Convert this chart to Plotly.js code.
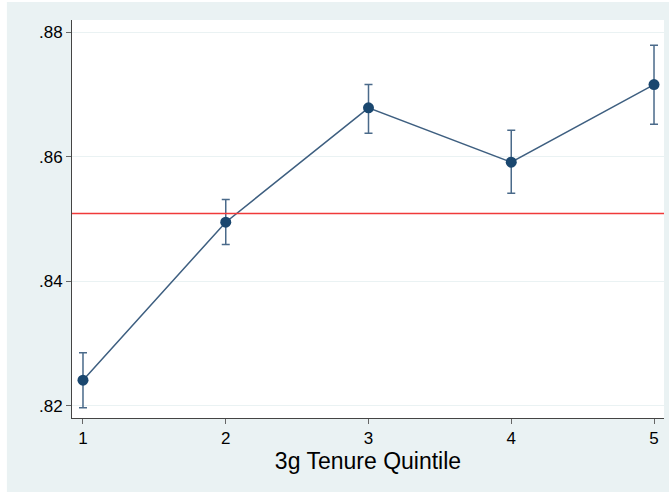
<!DOCTYPE html>
<html>
<head>
<meta charset="utf-8">
<script src="https://cdn.plot.ly/plotly-3.0.1.min.js"></script>
<style>html,body{margin:0;padding:0;background:#fff;}#chart{width:669px;height:492px;}</style>
</head>
<body>
<div id="chart"></div>
<script>
const quintiles = [1, 2, 3, 4, 5];
const means = [0.82414, 0.84949, 0.86784, 0.85911, 0.87157];
const upper = [0.82854, 0.85313, 0.87157, 0.86425, 0.87789];
const lower = [0.81971, 0.84591, 0.86377, 0.85414, 0.86520];
const overallMean = 0.85088;
const yTickVals = [0.82, 0.84, 0.86, 0.88];
const yTickText = ['.82', '.84', '.86', '.88'];
const xTickVals = [1, 2, 3, 4, 5];
const xTickText = ['1', '2', '3', '4', '5'];

const navy = '#1A476F';
const trace = {
  x: quintiles,
  y: means,
  type: 'scatter',
  mode: 'lines+markers',
  line: {color: '#3E5F80', width: 1.5},
  marker: {color: navy, size: 11},
  error_y: {
    type: 'data',
    symmetric: false,
    array: upper.map((u, i) => u - means[i]),
    arrayminus: lower.map((l, i) => means[i] - l),
    color: '#4A6A8A',
    thickness: 1.5,
    width: 4
  },
  hoverinfo: 'skip',
  showlegend: false
};

const layout = {
  width: 669,
  height: 492,
  margin: {l: 72, r: 5, t: 20, b: 74},
  paper_bgcolor: '#ffffff',
  plot_bgcolor: '#ffffff',
  font: {family: 'Liberation Sans, Arial, sans-serif', color: '#000'},
  showlegend: false,
  shapes: [
    {type: 'rect', xref: 'paper', yref: 'paper', x0: -0.11, x1: 1.02, y0: -0.2, y1: 1.045,
     fillcolor: '#EAF2F3', line: {width: 0}, layer: 'below'},
    {type: 'rect', xref: 'paper', yref: 'paper', x0: 0, x1: 1, y0: 0, y1: 1,
     fillcolor: '#ffffff', line: {width: 0}, layer: 'below'},
    {type: 'line', xref: 'paper', yref: 'y', x0: 0, x1: 1, y0: overallMean, y1: overallMean,
     line: {color: '#F03A3A', width: 1.5}}
  ],
  xaxis: {
    range: [0.923, 5.07],
    tickvals: xTickVals,
    ticktext: xTickText,
    ticks: 'outside',
    ticklen: 5,
    tickwidth: 1,
    tickcolor: '#666',
    showgrid: false,
    zeroline: false,
    showline: true,
    linecolor: '#444',
    linewidth: 1,
    mirror: false,
    tickfont: {size: 17, color: '#000'},
    title: {text: '3g Tenure Quintile', font: {size: 23, color: '#000'}, standoff: 4}
  },
  yaxis: {
    range: [0.81807, 0.88193],
    tickvals: yTickVals,
    ticktext: yTickText,
    ticks: 'outside',
    ticklen: 5,
    tickwidth: 1,
    tickcolor: '#666',
    showgrid: true,
    gridcolor: '#EAF2F3',
    gridwidth: 1,
    zeroline: false,
    showline: true,
    linecolor: '#444',
    linewidth: 1,
    tickfont: {size: 17, color: '#000'}
  }
};

Plotly.newPlot('chart', [trace], layout, {displayModeBar: false, staticPlot: true});
</script>
</body>
</html>
